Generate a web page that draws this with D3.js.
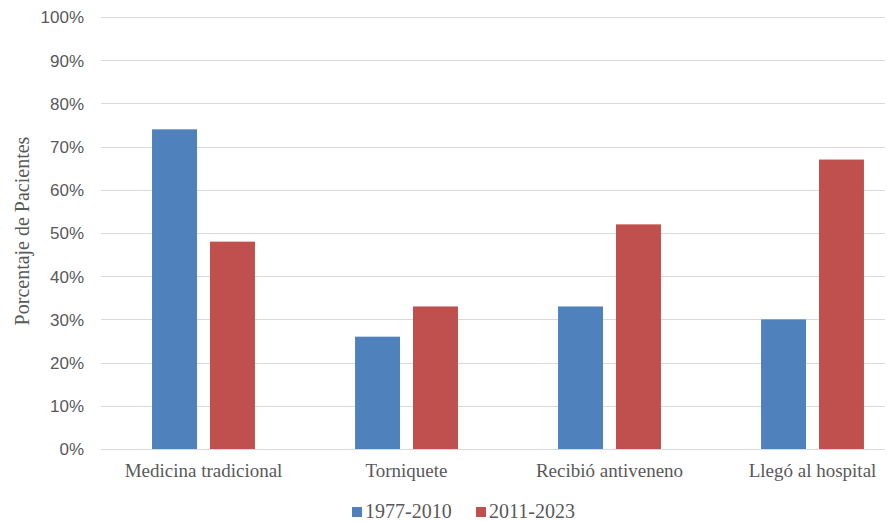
<!DOCTYPE html>
<html>
<head>
<meta charset="utf-8">
<script src="https://cdn.jsdelivr.net/npm/d3@7"></script>
<style>
  html, body { margin: 0; padding: 0; background: #ffffff; }
  svg { display: block; }
</style>
</head>
<body>
<svg id="chart" width="892" height="521"></svg>
<script>
const categories = ["Medicina tradicional", "Torniquete", "Recibió antiveneno", "Llegó al hospital"];
const seriesNames = ["1977-2010", "2011-2023"];
const values1977_2010 = [0.74, 0.26, 0.33, 0.30];
const values2011_2023 = [0.48, 0.33, 0.52, 0.67];
const yTicks = [0, 0.1, 0.2, 0.3, 0.4, 0.5, 0.6, 0.7, 0.8, 0.9, 1.0];
const colors = ["#4F81BD", "#C0504D"];
const yTitle = "Porcentaje de Pacientes";

const svg = d3.select("#chart");
const textColor = "#595959";
const serif = "'Liberation Serif', 'Times New Roman', serif";
const sans = "'Liberation Sans', Arial, sans-serif";

const gridLeft = 101, gridRight = 885;
const y = d3.scaleLinear().domain([0, 1]).range([449, 17]);
const x0 = d3.scaleBand().domain(categories).range([102, 914])
  .paddingInner(0.493).paddingOuter(0.2465);
const x1 = d3.scaleBand().domain(seriesNames).range([0, x0.bandwidth()])
  .paddingInner(0.224).paddingOuter(0);

// gridlines
svg.append("g").selectAll("line").data(yTicks).join("line")
  .attr("x1", gridLeft).attr("x2", gridRight)
  .attr("y1", d => Math.round(y(d)) + 0.5).attr("y2", d => Math.round(y(d)) + 0.5)
  .attr("stroke", "#d9d9d9").attr("stroke-width", 1);

// y axis labels
const yAxis = d3.axisLeft(y).tickValues(yTicks).tickFormat(d3.format(".0%")).tickSize(0).tickPadding(0);
const ya = svg.append("g").attr("transform", "translate(84,0)").call(yAxis);
ya.select(".domain").remove();
ya.selectAll("text").attr("font-family", sans).attr("font-size", 17).attr("fill", textColor).attr("dy", "0.35em");

// bars
const data = categories.map((c, i) => ({ cat: c, vals: [values1977_2010[i], values2011_2023[i]] }));
const groups = svg.append("g").selectAll("g").data(data).join("g")
  .attr("transform", d => `translate(${x0(d.cat)},0)`);
groups.selectAll("rect").data(d => d.vals.map((v, j) => ({ s: seriesNames[j], v, j })))
  .join("rect")
  .attr("x", d => x1(d.s))
  .attr("width", x1.bandwidth())
  .attr("y", d => y(d.v))
  .attr("height", d => y(0) - y(d.v))
  .attr("fill", d => colors[d.j]);

// category labels
const xAxis = d3.axisBottom(x0).tickSize(0).tickPadding(0);
const xa = svg.append("g").attr("transform", "translate(0,463)").call(xAxis);
xa.select(".domain").remove();
xa.selectAll("text").attr("font-family", serif).attr("font-size", 19).attr("fill", textColor).attr("dy", "0.71em");

// y title
svg.append("text")
  .attr("transform", "translate(29,231) rotate(-90)")
  .attr("text-anchor", "middle")
  .attr("font-family", serif).attr("font-size", 20).attr("fill", textColor)
  .text(yTitle);

// legend
const legendX = [352, 476];
const leg = svg.append("g").selectAll("g").data(seriesNames).join("g")
  .attr("transform", (d, i) => `translate(${legendX[i]},0)`);
leg.append("rect").attr("x", 0).attr("y", 507).attr("width", 10).attr("height", 10)
  .attr("fill", (d, i) => colors[i]);
leg.append("text").attr("x", 13).attr("y", 518)
  .attr("font-family", serif).attr("font-size", 20).attr("fill", textColor)
  .text(d => d);
</script>
</body>
</html>
